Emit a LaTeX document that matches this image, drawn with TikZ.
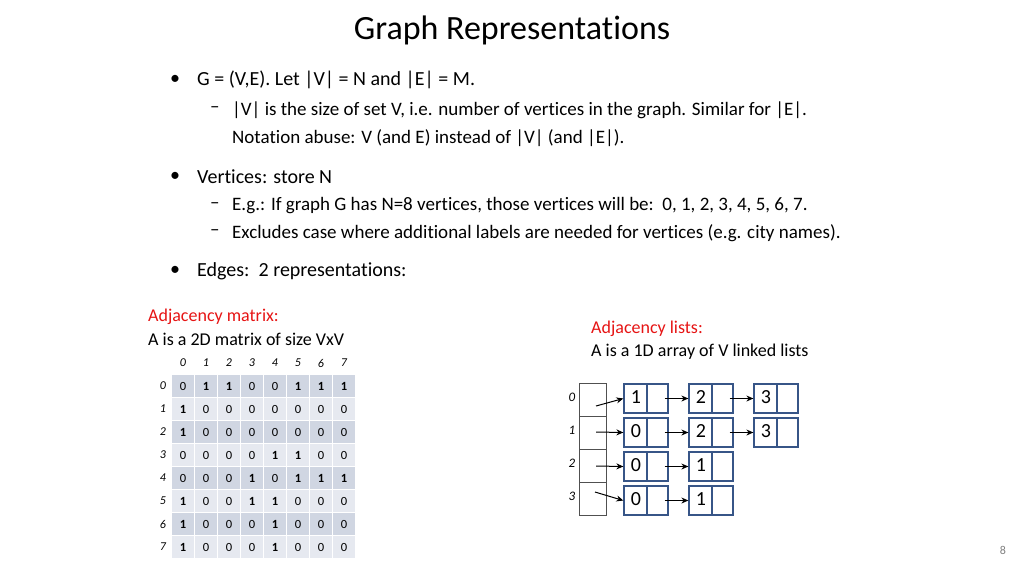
\documentclass[tikz,border=0pt]{standalone}
\usepackage{fontspec}
\setmainfont[Ligatures=NoCommon]{Carlito}
\usetikzlibrary{arrows.meta}
\begin{document}
\begin{tikzpicture}[x=1pt,y=-1pt,
  txt/.style={anchor=west,inner sep=0pt,font=\fontsize{20}{24}\selectfont},
  sub/.style={anchor=west,inner sep=0pt,font=\fontsize{19}{22}\selectfont},
  red/.style={anchor=west,inner sep=0pt,text={rgb,255:red,230;green,20;blue,20},font=\fontsize{18}{21}\selectfont},
  blk/.style={anchor=west,inner sep=0pt,font=\fontsize{18}{21}\selectfont},
  hdr/.style={inner sep=0pt,font=\fontsize{12}{14}\selectfont\itshape},
  cellA/.style={fill={rgb,255:red,208;green,214;blue,226},draw=white,line width=1pt,minimum width=23pt,minimum height=23pt,inner sep=0pt,font=\fontsize{12.5}{14}\selectfont},
  cellB/.style={cellA,fill={rgb,255:red,230;green,233;blue,240}},
  lnode/.style={draw={rgb,255:red,55;green,85;blue,135},line width=1.3pt,minimum width=44pt,minimum height=29pt,inner sep=0pt},
  arr/.style={-{Stealth[length=7pt,width=6pt]},line width=1pt},
  cellbox/.style={draw={rgb,255:red,80;green,80;blue,80},minimum width=27pt,minimum height=33pt,inner sep=0pt}]
\useasboundingbox (0,0) rectangle (1024,576);
\node[font=\fontsize{34}{38}\selectfont] (title) at (512,30) {Graph Representations};
\node[txt] (b1) at (170,80) {•}; \node[txt] (t1) at (197,80) {G = (V,E). Let |V| = N and |E| = M.};
\node[sub] (d1) at (210,110) {–}; \node[sub] (s1) at (232,110) {|V| is the size of set V, i.e. number of vertices in the graph. Similar for |E|.};
\node[sub] (s2) at (232,138) {Notation abuse: V (and E) instead of |V| (and |E|).};
\node[txt] (b2) at (170,177) {•}; \node[txt] (t2) at (197,177) {Vertices: store N};
\node[sub] (d2) at (210,206) {–}; \node[sub] (s3) at (232,206) {E.g.: If graph G has N=8 vertices, those vertices will be:\ \ 0, 1, 2, 3, 4, 5, 6, 7.};
\node[sub] (d3) at (210,233) {–}; \node[sub] (s4) at (232,233) {Excludes case where additional labels are needed for vertices (e.g. city names).};
\node[txt] (b3) at (170,271) {•}; \node[txt] (t3) at (197,271) {Edges:\ \ 2 representations:};
\node[red] (am) at (148,317) {Adjacency matrix:};
\node[blk] (am2) at (148,339) {A is a 2D matrix of size VxV};
\node[red] (al) at (591,329) {Adjacency lists:};
\node[blk] (al2) at (591,352) {A is a 1D array of V linked lists};
\node[font=\fontsize{12}{14}\selectfont,text=gray] (pg) at (1003,550) {8};
% matrix
\foreach \c in {0,...,7}{
  \node[hdr] (h\c) at (183+23*\c,363) {\c};
  \node[hdr] (r\c) at (163,386+23*\c) {\c};
}
\foreach \r/\row in {0/{0,1,1,0,0,1,1,1},1/{1,0,0,0,0,0,0,0},2/{1,0,0,0,0,0,0,0},3/{0,0,0,0,1,1,0,0},4/{0,0,0,1,0,1,1,1},5/{1,0,0,1,1,0,0,0},6/{1,0,0,0,1,0,0,0},7/{1,0,0,0,1,0,0,0}}{
  \foreach \v [count=\ci from 0] in \row {
    \pgfmathtruncatemacro{\pr}{mod(\r,2)}
    \ifnum\pr=0 \def\st{cellA}\else\def\st{cellB}\fi
    \ifnum\v=1
      \node[\st,font=\fontsize{12.5}{14}\selectfont\bfseries] (m\r\ci) at (183+23*\ci,386+23*\r) {1};
    \else
      \node[\st] (m\r\ci) at (183+23*\ci,386+23*\r) {0};
    \fi
  }
}
% array
\foreach \i in {0,...,3}{
  \node[cellbox] (a\i) at (592.5,399.5+33*\i) {};
  \node[hdr,font=\fontsize{13}{15}\selectfont\itshape] (ai\i) at (572,397+33*\i) {\i};
}
\coordinate (p0) at (596,406);
\coordinate (p1) at (596,432);
\coordinate (p2) at (596,466);
\coordinate (p3) at (595,492);
% list nodes
\foreach \rr/\vals in {0/{1,2,3},1/{0,2,3},2/{0,1},3/{0,1}}{
  \foreach \v [count=\k from 0] in \vals {
    \node[lnode] (n\rr\k) at (646+65*\k,398.5+34*\rr) {};
    \draw[draw={rgb,255:red,55;green,85;blue,135},line width=1.3pt] ([xshift=1pt]n\rr\k.north) -- ([xshift=1pt]n\rr\k.south);
    \node[font=\fontsize{20}{24}\selectfont] (v\rr\k) at ([xshift=-10pt,yshift=1pt]n\rr\k.center) {\v};
    \coordinate (q\rr\k) at ([xshift=-4pt]n\rr\k.east);
  }
}
\draw[arr] (p0) -- (n00.west);
\draw[arr] (p1) -- (n10.west);
\draw[arr] (p2) -- (n20.west);
\draw[arr] (p3) -- (n30.west);
\draw[arr] (q00) -- (n01.west); \draw[arr] (q01) -- (n02.west);
\draw[arr] (q10) -- (n11.west); \draw[arr] (q11) -- (n12.west);
\draw[arr] (q20) -- (n21.west);
\draw[arr] (q30) -- (n31.west);
\end{tikzpicture}
\end{document}
